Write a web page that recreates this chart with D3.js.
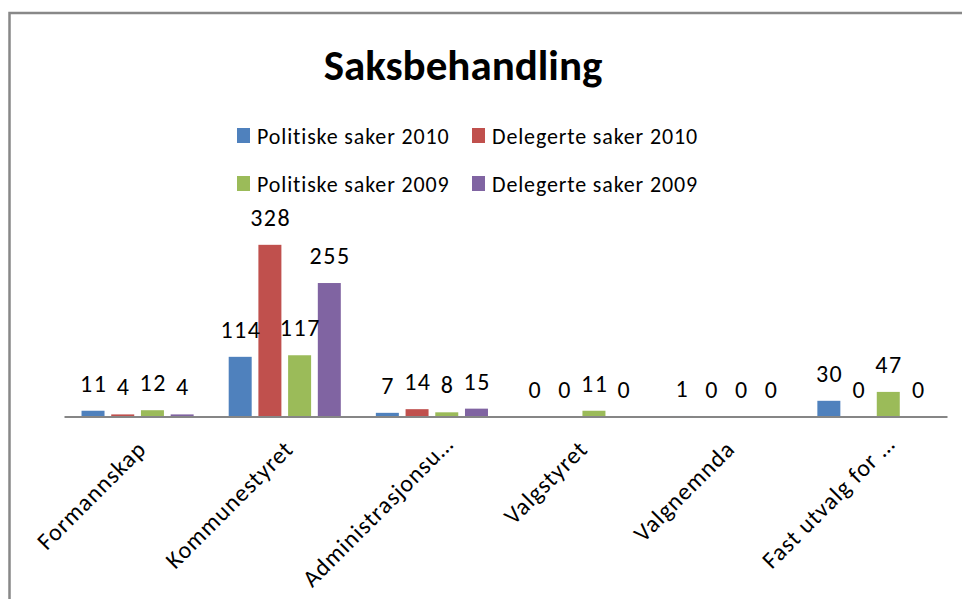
<!DOCTYPE html>
<html>
<head>
<meta charset="utf-8">
<script src="https://cdn.jsdelivr.net/npm/d3@7"></script>
<style>
  body { margin: 0; background: #fff; }
  svg { display: block; font-family: Carlito, Calibri, Lato, sans-serif; }
</style>
</head>
<body>
<svg id="chart" width="962" height="599"></svg>
<script>
const CATEGORIES = ['Formannskap', 'Kommunestyret', 'Administrasjonsu…', 'Valgstyret', 'Valgnemnda', 'Fast utvalg for …']
const SERIES = ['Politiske saker 2010', 'Delegerte saker 2010', 'Politiske saker 2009', 'Delegerte saker 2009']
const POLITISKE_2010 = [11, 114, 7, 0, 1, 30]
const DELEGERTE_2010 = [4, 328, 14, 0, 0, 0]
const POLITISKE_2009 = [12, 117, 8, 11, 0, 47]
const DELEGERTE_2009 = [4, 255, 15, 0, 0, 0]
const COLORS = ['#4F81BD', '#C0504D', '#9BBB59', '#8064A2']

const values = [POLITISKE_2010, DELEGERTE_2010, POLITISKE_2009, DELEGERTE_2009]
const data = []
CATEGORIES.forEach((c, i) => {
  SERIES.forEach((s, j) => data.push({ cat: c, series: s, value: values[j][i] }))
})

const svg = d3.select('#chart')

// outer frame (cut off by the window on the right and bottom)
svg.append('rect')
  .attr('x', 9.5).attr('y', 13)
  .attr('width', 1000).attr('height', 700)
  .attr('fill', 'none')
  .attr('stroke', '#888')
  .attr('stroke-width', 2.5)

// title
svg.append('text')
  .attr('x', 463).attr('y', 80)
  .attr('text-anchor', 'middle')
  .attr('font-size', 43)
  .attr('font-weight', 'bold')
  .text('Saksbehandling')

// legend, 2 x 2
const legend = svg.append('g').selectAll('g')
  .data(SERIES)
  .join('g')
  .attr('transform', (d, i) => 'translate(' + (237 + (i % 2) * 235) + ',' + (135 + Math.floor(i / 2) * 48) + ')')
legend.append('rect')
  .attr('x', 0).attr('y', -7)
  .attr('width', 13).attr('height', 15)
  .attr('fill', (d, i) => COLORS[i])
legend.append('text')
  .attr('x', 20).attr('y', 1)
  .attr('dominant-baseline', 'central')
  .attr('font-size', 22)
  .attr('letter-spacing', 0.85)
  .text(d => d)

// scales
const x0 = d3.scaleBand().domain(CATEGORIES).range([64, 947])
const x1 = d3.scaleBand().domain(SERIES).range([0, x0.bandwidth()])
  .paddingInner(0.226).paddingOuter(0.59)
const y = d3.scaleLinear().domain([0, 350]).range([416.5, 233.3])
const color = d3.scaleOrdinal().domain(SERIES).range(COLORS)

const g = svg.append('g').attr('id', 'graph-g')

g.selectAll('rect.bar')
  .data(data)
  .join('rect')
  .attr('class', 'bar')
  .attr('x', d => x0(d.cat) + x1(d.series))
  .attr('y', d => y(d.value))
  .attr('width', x1.bandwidth())
  .attr('height', d => y(0) - y(d.value))
  .attr('fill', d => color(d.series))

// data labels
g.selectAll('text.lbl')
  .data(data)
  .join('text')
  .attr('class', 'lbl')
  .attr('x', d => x0(d.cat) + x1(d.series) + x1.bandwidth() / 2)
  .attr('y', d => y(d.value) - 19)
  .attr('dx', 0.75)
  .attr('text-anchor', 'middle')
  .attr('font-size', 24)
  .attr('letter-spacing', 1.5)
  .text(d => d.value)

// x axis
const xAxis = svg.append('g')
  .attr('class', 'x axis')
  .attr('transform', 'translate(0,' + y(0) + ')')
  .call(d3.axisBottom(x0).tickSize(0).tickPadding(0))
xAxis.select('.domain').attr('stroke', '#868686').attr('stroke-width', 2)
// truncated labels sit a bit further along, like in the original
xAxis.selectAll('.tick text')
  .attr('font-size', 24)
  .attr('letter-spacing', 1)
  .attr('font-family', 'Carlito, Calibri, Lato, sans-serif')
  .attr('fill', '#000')
  .attr('text-anchor', 'end')
  .attr('dy', 0)
  .attr('transform', d => d.endsWith('…') ? 'translate(23,29) rotate(-45)' : 'translate(10,34) rotate(-45)')
</script>
</body>
</html>
